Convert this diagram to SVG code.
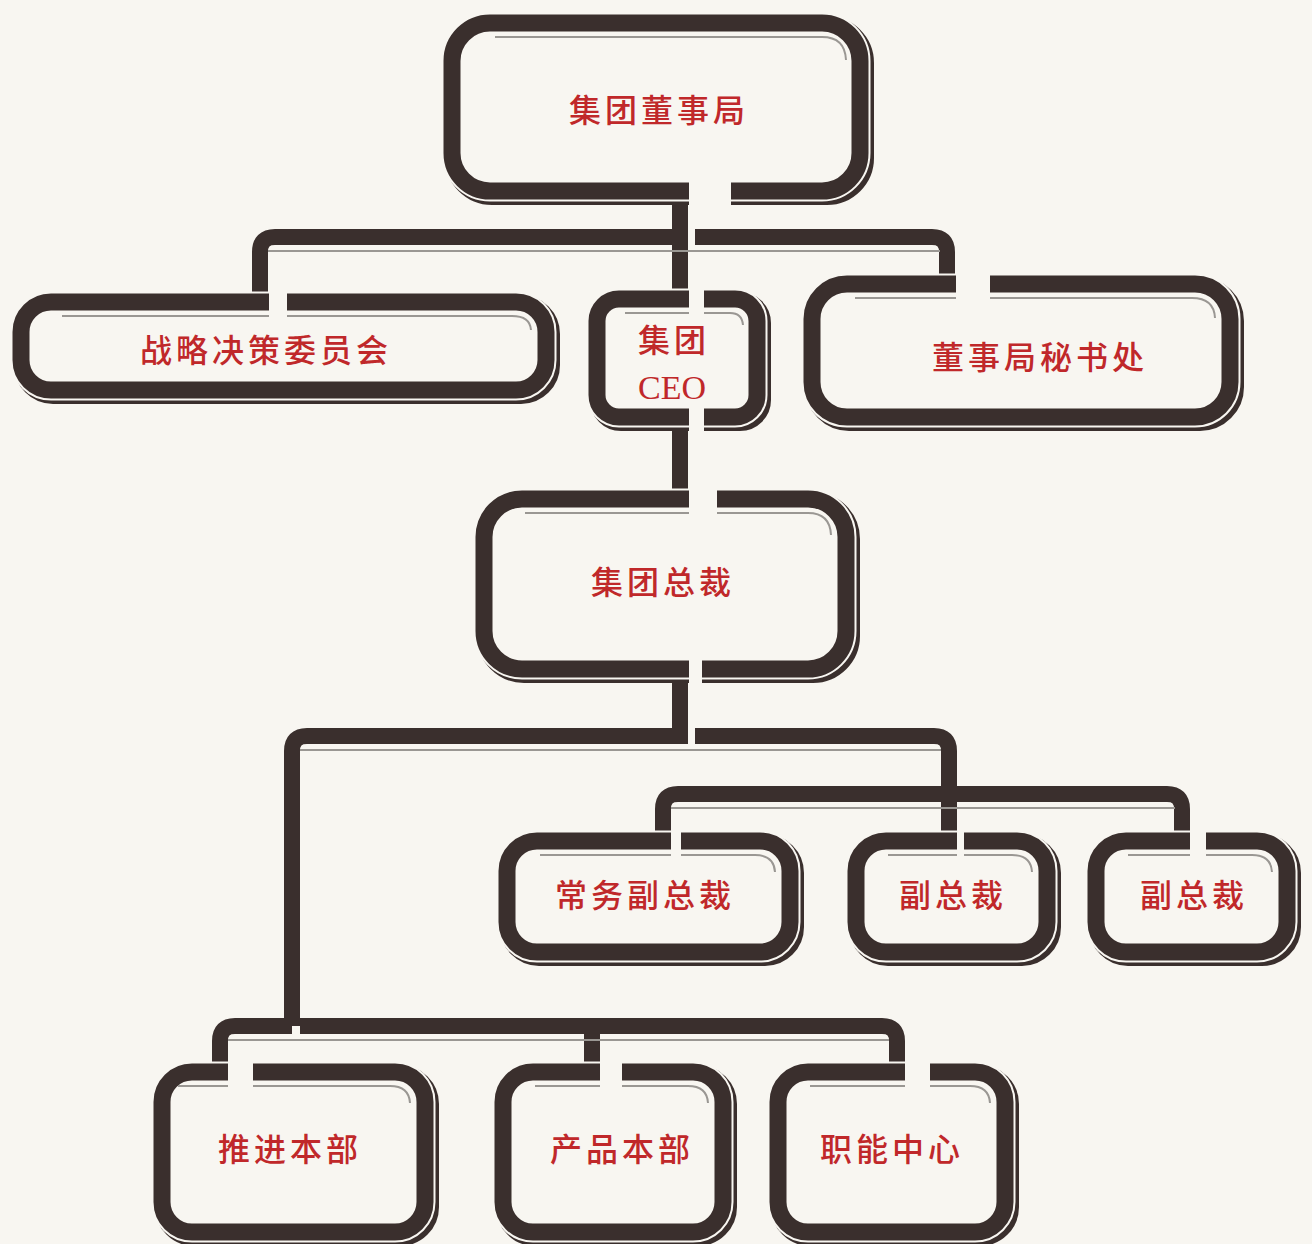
<svg xmlns="http://www.w3.org/2000/svg" width="1312" height="1244" viewBox="0 0 1312 1244">
<defs>
<style>
.bg{fill:#f8f6f1}
.back{fill:none;stroke:#3a2f2d;stroke-width:14}
.halo{fill:none;stroke:#f8f6f1;stroke-width:21}
.front{fill:none;stroke:#3a2f2d;stroke-width:17}
.gap{fill:#f8f6f1}
.conn{fill:none;stroke:#3a2f2d;stroke-width:16}
.hl{fill:none;stroke:#9a9793;stroke-width:2}
.t{font-family:"Noto Sans CJK SC","Noto Sans CJK JP",sans-serif;font-size:32px;font-weight:500;fill:#c0282a;text-anchor:middle;dominant-baseline:central;letter-spacing:4px}
.en{font-family:"Liberation Serif",serif;font-size:34px;fill:#c0282a;text-anchor:middle;dominant-baseline:central}
</style>
</defs>
<rect class="bg" x="0" y="0" width="1312" height="1244"/>

<g id="connectors">
<path class="conn" d="M680 190 V299"/>
<path class="conn" d="M688 237 H275 Q260 237 260 252 V302"/>
<path class="conn" d="M695 237 H932 Q947 237 947 252 V286"/>
<path class="hl" d="M268 251 H940"/>
<path class="conn" d="M680 417 V499"/>
<path class="conn" d="M680 669 V737"/>
<path class="conn" d="M688 736 H307 Q292 736 292 751 V1026"/>
<path class="conn" d="M292 1026 H235 Q220 1026 220 1041 V1074"/>
<path class="conn" d="M300 1026 H882 Q897 1026 897 1041 V1074"/>
<path class="conn" d="M592 1033 V1074"/>
<path class="hl" d="M300 750 H941"/>
<path class="hl" d="M228 1040 H889"/>
<path class="conn" d="M695 736 H934 Q949 736 949 751 V843"/>
<path class="conn" d="M941 794 H678 Q663 794 663 809 V843"/>
<path class="conn" d="M957 794 H1167 Q1182 794 1182 809 V843"/>
<path class="hl" d="M671 808 H1175"/>
</g>

<g id="n_board">
<rect class="back" x="452" y="23" width="415" height="175" rx="40"/>
<rect class="halo" x="452" y="23" width="408" height="168" rx="38"/>
<rect class="front" x="452" y="23" width="408" height="168" rx="38"/>
<path class="hl" d="M495 37 H822 Q845 37 846 60"/>
<rect class="gap" x="689" y="178" width="42" height="32"/>
<text class="t" x="659" y="108">集团董事局</text>
</g>

<g id="n_strategy">
<rect class="back" x="21" y="302" width="532" height="95" rx="32"/>
<rect class="halo" x="21" y="302" width="525" height="88" rx="30"/>
<rect class="front" x="21" y="302" width="525" height="88" rx="30"/>
<path class="hl" d="M62 316 H512 Q530 316 531 330"/>
<rect class="gap" x="269" y="290" width="18" height="30"/>
<text class="t" x="266" y="348">战略决策委员会</text>
</g>

<g id="n_ceo">
<rect class="back" x="597" y="299" width="167" height="125" rx="24"/>
<rect class="halo" x="597" y="299" width="160" height="118" rx="22"/>
<rect class="front" x="597" y="299" width="160" height="118" rx="22"/>
<path class="hl" d="M625 313 H730 Q742 313 743 325"/>
<rect class="gap" x="689" y="288" width="15" height="28"/>
<rect class="gap" x="689" y="405" width="15" height="28"/>
<text class="t" x="674" y="338">集团</text>
<text class="en" x="672" y="387">CEO</text>
</g>

<g id="n_secretary">
<rect class="back" x="812" y="284" width="425" height="140" rx="37"/>
<rect class="halo" x="812" y="284" width="418" height="133" rx="35"/>
<rect class="front" x="812" y="284" width="418" height="133" rx="35"/>
<path class="hl" d="M855 298 H1192 Q1214 298 1215 318"/>
<rect class="gap" x="956" y="272" width="34" height="30"/>
<text class="t" x="1040" y="355">董事局秘书处</text>
</g>

<g id="n_president">
<rect class="back" x="484" y="499" width="369" height="177" rx="40"/>
<rect class="halo" x="484" y="499" width="362" height="170" rx="38"/>
<rect class="front" x="484" y="499" width="362" height="170" rx="38"/>
<path class="hl" d="M525 513 H808 Q830 513 831 535"/>
<rect class="gap" x="689" y="487" width="28" height="30"/>
<rect class="gap" x="689" y="657" width="13" height="30"/>
<text class="t" x="663" y="580">集团总裁</text>
</g>

<g id="n_evp">
<rect class="back" x="507" y="841" width="290" height="118" rx="32"/>
<rect class="halo" x="507" y="841" width="283" height="111" rx="30"/>
<rect class="front" x="507" y="841" width="283" height="111" rx="30"/>
<path class="hl" d="M540 855 H755 Q774 855 775 872"/>
<rect class="gap" x="671" y="829" width="10" height="30"/>
<text class="t" x="645" y="893">常务副总裁</text>
</g>

<g id="n_vp1">
<rect class="back" x="856" y="841" width="198" height="118" rx="32"/>
<rect class="halo" x="856" y="841" width="191" height="111" rx="30"/>
<rect class="front" x="856" y="841" width="191" height="111" rx="30"/>
<path class="hl" d="M888 855 H1012 Q1031 855 1032 872"/>
<rect class="gap" x="957" y="829" width="7" height="30"/>
<text class="t" x="953" y="893">副总裁</text>
</g>

<g id="n_vp2">
<rect class="back" x="1096" y="841" width="198" height="118" rx="32"/>
<rect class="halo" x="1096" y="841" width="191" height="111" rx="30"/>
<rect class="front" x="1096" y="841" width="191" height="111" rx="30"/>
<path class="hl" d="M1128 855 H1252 Q1271 855 1272 872"/>
<rect class="gap" x="1190" y="829" width="16" height="30"/>
<text class="t" x="1194" y="893">副总裁</text>
</g>

<g id="n_promo">
<rect class="back" x="162" y="1072" width="270" height="167" rx="32"/>
<rect class="halo" x="162" y="1072" width="263" height="160" rx="30"/>
<rect class="front" x="162" y="1072" width="263" height="160" rx="30"/>
<path class="hl" d="M178 1086 H390 Q409 1086 410 1103"/>
<rect class="gap" x="228" y="1060" width="25" height="30"/>
<text class="t" x="290" y="1147">推进本部</text>
</g>

<g id="n_product">
<rect class="back" x="503" y="1072" width="227" height="167" rx="32"/>
<rect class="halo" x="503" y="1072" width="220" height="160" rx="30"/>
<rect class="front" x="503" y="1072" width="220" height="160" rx="30"/>
<path class="hl" d="M535 1086 H688 Q707 1086 708 1103"/>
<rect class="gap" x="600" y="1060" width="22" height="30"/>
<text class="t" x="622" y="1147">产品本部</text>
</g>

<g id="n_function">
<rect class="back" x="778" y="1072" width="234" height="167" rx="32"/>
<rect class="halo" x="778" y="1072" width="227" height="160" rx="30"/>
<rect class="front" x="778" y="1072" width="227" height="160" rx="30"/>
<path class="hl" d="M810 1086 H970 Q989 1086 990 1103"/>
<rect class="gap" x="905" y="1060" width="25" height="30"/>
<text class="t" x="892" y="1147">职能中心</text>
</g>
</svg>
